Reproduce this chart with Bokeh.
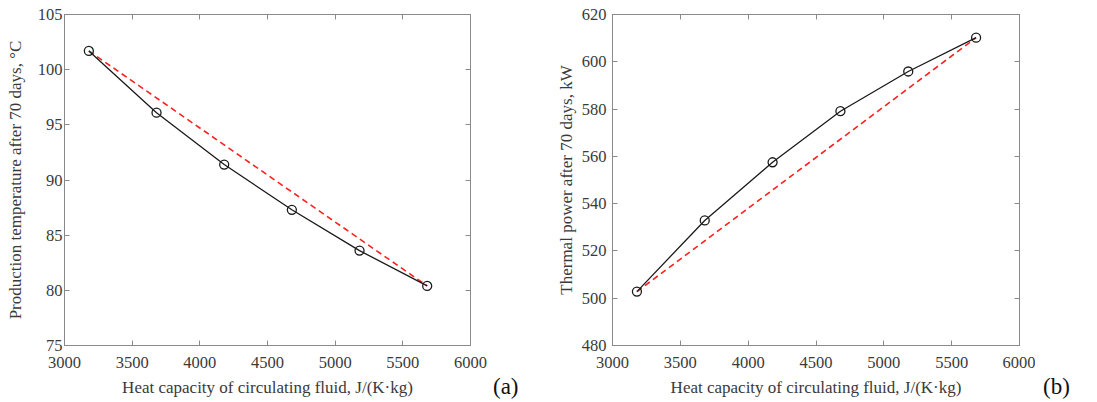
from bokeh.plotting import figure
from bokeh.layouts import row
from bokeh.models import LinearAxis, FixedTicker, Range1d, Div
from bokeh.embed import file_html
from bokeh.resources import INLINE

heat_capacity = [3180, 3680, 4180, 4680, 5180, 5680]
production_temp = [101.7, 96.1, 91.4, 87.3, 83.6, 80.4]
thermal_power = [502.8, 532.9, 557.5, 579.1, 595.9, 610.2]
linear_x = [3180, 5680]
linear_temp = [101.7, 80.4]
linear_power = [502.8, 610.2]
x_ticks = [3000, 3500, 4000, 4500, 5000, 5500, 6000]
temp_ticks = [75, 80, 85, 90, 95, 100, 105]
power_ticks = [480, 500, 520, 540, 560, 580, 600, 620]
panel_letters = ["(a)", "(b)"]

FONT = "Liberation Serif"
AXC = "#8a8a8a"
TXT = "#3a3a3a"
H = 401


def style_axis(ax, labels=True):
    ax.axis_line_color = AXC
    ax.major_tick_line_color = AXC
    ax.minor_tick_line_color = None
    ax.major_tick_in = 5
    ax.major_tick_out = 0
    ax.major_label_text_font = FONT
    ax.major_label_text_color = TXT
    ax.axis_label_text_font = FONT
    ax.axis_label_text_color = TXT
    ax.axis_label_text_font_style = "normal"
    ax.axis_label_text_font_size = "17px"
    if labels:
        ax.major_label_text_font_size = "16.5px"
    else:
        ax.major_label_text_font_size = "1px"
        ax.major_label_text_color = None
        ax.major_label_standoff = 0


def make_panel(yvals, lin_y, yticks, ylabel, width, bl, bt, br,
               y_std, ylab_std):
    p = figure(width=width, height=H, output_backend="svg",
               toolbar_location=None,
               x_range=Range1d(x_ticks[0], x_ticks[-1]),
               y_range=Range1d(yticks[0], yticks[-1]),
               min_border_left=bl, min_border_top=bt,
               min_border_right=br, min_border_bottom=H - 345)
    p.grid.visible = False
    p.outline_line_color = AXC
    p.background_fill_color = "white"
    p.border_fill_color = "white"

    xa = p.xaxis[0]
    xa.ticker = FixedTicker(ticks=x_ticks)
    xa.axis_label = "Heat capacity of circulating fluid, J/(K\u00b7kg)"
    style_axis(xa)
    xa.major_label_standoff = 11
    xa.axis_label_standoff = 7

    ya = p.yaxis[0]
    ya.ticker = FixedTicker(ticks=yticks)
    ya.axis_label = ylabel
    style_axis(ya)
    ya.major_label_standoff = y_std
    ya.axis_label_standoff = ylab_std

    top = LinearAxis(ticker=FixedTicker(ticks=x_ticks))
    style_axis(top, labels=False)
    p.add_layout(top, "above")
    right = LinearAxis(ticker=FixedTicker(ticks=yticks))
    style_axis(right, labels=False)
    p.add_layout(right, "right")

    p.line(linear_x, lin_y, line_color="#ff2020", line_width=1.6,
           line_dash="6 4")
    p.line(heat_capacity, yvals, line_color="#1a1a1a", line_width=1.3)
    p.scatter(heat_capacity, yvals, marker="circle", size=9,
              fill_color=None, line_color="#1a1a1a", line_width=1.3)
    return p


def letter_panel(text, width, x_off):
    html = ('<div style="position:relative; top:375px; left:%dpx; '
            'font-family:\'Liberation Serif\'; font-size:23px; '
            'line-height:1; color:#111111; white-space:nowrap">%s</div>'
            % (x_off, text))
    return Div(text=html, width=width, height=H, margin=0)


p1 = make_panel(production_temp, linear_temp, temp_ticks,
                "Production temperature after 70 days, \u00b0C",
                490, 64, 14, 20, 2, 10)
pa = letter_panel(panel_letters[0], 55, 3)
p2 = make_panel(thermal_power, linear_power, power_ticks,
                "Thermal power after 70 days, kW",
                490, 67, 14, 16, 6, 3)
pb = letter_panel(panel_letters[1], 60, 8)

layout = row(p1, pa, p2, pb)
open("out.html", "w").write(file_html(layout, INLINE))
